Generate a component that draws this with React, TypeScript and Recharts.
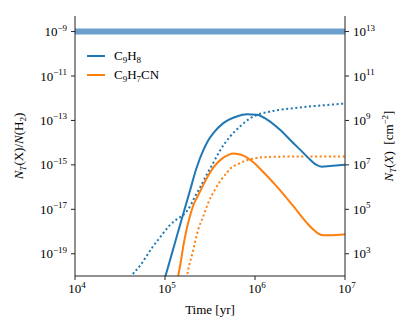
import React from "react";
import { ComposedChart, Line, XAxis, YAxis, ReferenceLine, Legend } from "recharts";

// ---- Data (stored as log10 exponents) ----
// C9H8, solid (fractional abundance)
const c9h8LogT = [4.944, 5.008, 5.078, 5.144, 5.211, 5.278, 5.352, 5.426, 5.478, 5.537, 5.648, 5.797, 5.908, 6.019, 6.13, 6.278, 6.411, 6.537, 6.611, 6.678, 6.744, 6.833, 7.0];
const c9h8LogX = [-20.76, -19.96, -18.97, -18.03, -17.09, -16.15, -15.12, -14.34, -13.91, -13.57, -13.12, -12.82, -12.72, -12.74, -12.95, -13.42, -13.96, -14.46, -14.76, -14.99, -15.08, -15.05, -14.99];

// C9H8, dotted
const c9h8DotLogT = [4.589, 4.63, 4.722, 4.797, 4.87, 4.944, 5.0, 5.056, 5.13, 5.186, 5.241, 5.289, 5.333, 5.389, 5.463, 5.537, 5.611, 5.722, 5.833, 5.944, 6.056, 6.167, 6.278, 6.537, 7.0];
const c9h8DotLogX = [-20.27, -19.99, -19.54, -19.09, -18.65, -18.27, -17.97, -17.7, -17.45, -17.3, -17.09, -16.78, -16.42, -16.02, -15.44, -14.9, -14.36, -13.73, -13.27, -12.91, -12.7, -12.6, -12.52, -12.4, -12.24];

// C9H7CN, solid
const c9h7cnLogT = [5.122, 5.148, 5.178, 5.203, 5.233, 5.259, 5.289, 5.314, 5.356, 5.389, 5.433, 5.478, 5.537, 5.589, 5.648, 5.7, 5.759, 5.811, 5.87, 5.922, 5.981, 6.092, 6.241, 6.426, 6.574, 6.644, 6.703, 6.767, 6.833, 7.0];
const c9h7cnLogX = [-20.32, -19.96, -19.29, -18.66, -18.03, -17.58, -17.14, -16.82, -16.47, -16.2, -15.84, -15.5, -15.12, -14.88, -14.67, -14.56, -14.49, -14.51, -14.58, -14.7, -14.88, -15.32, -15.97, -16.86, -17.6, -17.9, -18.09, -18.17, -18.17, -18.12];

// C9H7CN, dotted
const c9h7cnDotLogT = [5.233, 5.259, 5.297, 5.333, 5.37, 5.426, 5.481, 5.556, 5.611, 5.686, 5.733, 5.797, 5.908, 6.019, 6.167, 6.5, 7.0];
const c9h7cnDotLogX = [-20.32, -19.69, -19.09, -18.49, -17.9, -17.3, -16.7, -16.11, -15.75, -15.36, -15.14, -14.99, -14.79, -14.69, -14.64, -14.62, -14.62];

const observedAbundance = 1e-9;
const columnFactor = 1e22; // N(H2) relating right axis to left axis

const seriesNames = ["C9H8", "C9H7CN"];

const xMajorTicks = [1e4, 1e5, 1e6, 1e7];
const xMinorTicks = [4, 5, 6].flatMap((e) => [2, 3, 4, 5, 6, 7, 8, 9].map((m) => m * Math.pow(10, e)));
const leftTicks = [1e-19, 1e-17, 1e-15, 1e-13, 1e-11, 1e-9];
const rightTicks = [1e3, 1e5, 1e7, 1e9, 1e11, 1e13];

const xDomain = [1e4, 1e7];
const leftDomain = [1e-20, Math.pow(10, -8.3)];
const rightDomain = [leftDomain[0] * columnFactor, leftDomain[1] * columnFactor];

const toRows = (lt: number[], lx: number[]) => lt.map((t, i) => ({ t: Math.pow(10, t), v: Math.pow(10, lx[i]) }));

const c9h8 = toRows(c9h8LogT, c9h8LogX);
const c9h8Dot = toRows(c9h8DotLogT, c9h8DotLogX);
const c9h7cn = toRows(c9h7cnLogT, c9h7cnLogX);
const c9h7cnDot = toRows(c9h7cnDotLogT, c9h7cnDotLogX);

const BLUE = "#1f77b4";
const ORANGE = "#ff7f0e";
const SPINE = "#222";
const FONT = "'Liberation Serif', 'DejaVu Serif', serif";
const FS = 13;
const SUP = 9;
const txtStyle = { fontFamily: FONT };

const fmtExp = (v: number) => {
  const e = Math.round(Math.log10(v));
  return e < 0 ? "\u2212" + Math.abs(e) : String(e);
};

const LeftTick = (p: any) => (
  <text x={p.x} y={p.y + 4.5} textAnchor="end" style={txtStyle} fontSize={FS} fill="#000">
    <tspan>10</tspan>
    <tspan dy={-5.5} fontSize={SUP}>{fmtExp(p.payload.value)}</tspan>
  </text>
);

const RightTick = (p: any) => (
  <text x={p.x} y={p.y + 4.5} textAnchor="start" style={txtStyle} fontSize={FS} fill="#000">
    <tspan>10</tspan>
    <tspan dy={-5.5} fontSize={SUP}>{fmtExp(p.payload.value)}</tspan>
  </text>
);

const BottomTick = (p: any) => (
  <text x={p.x + 2} y={p.y + 11} textAnchor="middle" style={txtStyle} fontSize={FS} fill="#000">
    <tspan>10</tspan>
    <tspan dy={-5.5} fontSize={SUP}>{fmtExp(p.payload.value)}</tspan>
  </text>
);

const XTitle = (p: any) => {
  const vb = p.viewBox || { x: 0, y: 0, width: 0, height: 0 };
  return (
    <text x={vb.x + vb.width / 2} y={vb.y + 38} textAnchor="middle" style={txtStyle} fontSize={FS} fill="#000">
      Time [yr]
    </text>
  );
};

const LeftTitle = (p: any) => {
  const vb = p.viewBox || { x: 0, y: 0, width: 0, height: 0 };
  const cx = vb.x + 23;
  const cy = vb.y + vb.height / 2;
  return (
    <text x={cx} y={cy} transform={`rotate(-90, ${cx}, ${cy})`} textAnchor="middle" style={txtStyle} fontSize={FS} fill="#000">
      <tspan fontStyle="italic">N</tspan>
      <tspan fontStyle="italic" fontSize={SUP} dy={2.5}>T</tspan>
      <tspan dy={-2.5}>(X)/</tspan>
      <tspan fontStyle="italic">N</tspan>
      <tspan>(H</tspan>
      <tspan fontSize={SUP} dy={2.5}>2</tspan>
      <tspan dy={-2.5}>)</tspan>
    </text>
  );
};

const RightTitle = (p: any) => {
  const vb = p.viewBox || { x: 0, y: 0, width: 0, height: 0 };
  const cx = vb.x + 48;
  const cy = vb.y + vb.height / 2;
  return (
    <text x={cx} y={cy} transform={`rotate(-90, ${cx}, ${cy})`} textAnchor="middle" style={txtStyle} fontSize={FS} fill="#000">
      <tspan fontStyle="italic">N</tspan>
      <tspan fontStyle="italic" fontSize={SUP} dy={2.5}>T</tspan>
      <tspan dy={-2.5}>(</tspan>
      <tspan fontStyle="italic">X</tspan>
      <tspan>{")\u2002[cm"}</tspan>
      <tspan fontSize={SUP} dy={-5.5}>{"\u22122"}</tspan>
      <tspan dy={5.5}>]</tspan>
    </text>
  );
};

const formula = (name: string) =>
  name.split(/(\d+)/).filter((s) => s.length > 0).map((s, i) =>
    /^\d+$/.test(s) ? (
      <span key={i} style={{ fontSize: SUP, position: "relative", top: 3 }}>{s}</span>
    ) : (
      <span key={i}>{s}</span>
    )
  );

const renderLegend = (props: any) => {
  const items = (props.payload || [])
    .filter((it: any) => it.type !== "none" && seriesNames.includes(it.value))
    .sort((a: any, b: any) => seriesNames.indexOf(a.value) - seriesNames.indexOf(b.value));
  return (
    <div style={{ fontFamily: FONT, fontSize: FS, color: "#000" }}>
      {items.map((it: any, i: number) => (
        <div key={i} style={{ display: "flex", alignItems: "center", height: 18.7 }}>
          <svg width={18} height={4} style={{ display: "block" }}>
            <line x1={0} y1={2} x2={18} y2={2} stroke={it.color} strokeWidth={2} />
          </svg>
          <span style={{ marginLeft: 9, lineHeight: "14px" }}>{formula(it.value)}</span>
        </div>
      ))}
    </div>
  );
};

export default function App() {
  return (
    <div style={{ position: "absolute", left: 0, top: 0, width: 415, height: 332, background: "#fff" }}>
      <ComposedChart width={415} height={332} margin={{ top: 16, right: 0, bottom: 0, left: 0 }}>
        <XAxis
          xAxisId="minor"
          type="number"
          dataKey="t"
          scale="log"
          domain={xDomain}
          allowDataOverflow
          ticks={xMinorTicks}
          interval={0}
          tick={false}
          tickSize={2}
          axisLine={false}
          tickLine={{ stroke: SPINE, strokeWidth: 0.8 }}
          height={0}
        />
        <XAxis
          xAxisId="main"
          type="number"
          dataKey="t"
          scale="log"
          domain={xDomain}
          allowDataOverflow
          ticks={xMajorTicks}
          interval={0}
          tick={<BottomTick />}
          tickSize={4}
          tickMargin={2}
          axisLine={{ stroke: SPINE, strokeWidth: 1 }}
          tickLine={{ stroke: SPINE, strokeWidth: 1 }}
          height={56}
          label={<XTitle />}
        />
        <XAxis
          xAxisId="top"
          orientation="top"
          type="number"
          dataKey="t"
          scale="log"
          domain={xDomain}
          allowDataOverflow
          tick={false}
          tickLine={false}
          axisLine={{ stroke: SPINE, strokeWidth: 1 }}
          height={0}
        />
        <YAxis
          yAxisId="left"
          type="number"
          scale="log"
          domain={leftDomain}
          allowDataOverflow
          ticks={leftTicks}
          interval={0}
          tick={<LeftTick />}
          tickSize={4}
          tickMargin={4}
          width={75}
          axisLine={{ stroke: SPINE, strokeWidth: 1 }}
          tickLine={{ stroke: SPINE, strokeWidth: 1 }}
          label={<LeftTitle />}
        />
        <YAxis
          yAxisId="right"
          orientation="right"
          type="number"
          scale="log"
          domain={rightDomain}
          allowDataOverflow
          ticks={rightTicks}
          interval={0}
          tick={<RightTick />}
          tickSize={4}
          tickMargin={4}
          width={70}
          axisLine={{ stroke: SPINE, strokeWidth: 1 }}
          tickLine={{ stroke: SPINE, strokeWidth: 1 }}
          label={<RightTitle />}
        />
        <ReferenceLine yAxisId="left" xAxisId="main" y={observedAbundance} stroke="#6c9fcb" strokeWidth={6} ifOverflow="hidden" />
        <Line xAxisId="main" yAxisId="left" data={c9h8Dot} dataKey="v" name="C9H8 dotted" type="monotone" stroke={BLUE} strokeWidth={2} strokeDasharray="2 2.6" dot={false} activeDot={false} legendType="none" isAnimationActive={false} />
        <Line xAxisId="main" yAxisId="left" data={c9h7cnDot} dataKey="v" name="C9H7CN dotted" type="monotone" stroke={ORANGE} strokeWidth={2} strokeDasharray="2 2.6" dot={false} activeDot={false} legendType="none" isAnimationActive={false} />
        <Line xAxisId="main" yAxisId="left" data={c9h8} dataKey="v" name={seriesNames[0]} type="monotone" stroke={BLUE} strokeWidth={2} dot={false} activeDot={false} isAnimationActive={false} />
        <Line xAxisId="main" yAxisId="left" data={c9h7cn} dataKey="v" name={seriesNames[1]} type="monotone" stroke={ORANGE} strokeWidth={2} dot={false} activeDot={false} isAnimationActive={false} />
        <Legend
          layout="vertical"
          align="center"
          verticalAlign="middle"
          content={renderLegend}
          wrapperStyle={{ left: 87, top: 47, right: "auto", bottom: "auto", width: "auto", height: "auto" }}
        />
      </ComposedChart>
    </div>
  );
}
